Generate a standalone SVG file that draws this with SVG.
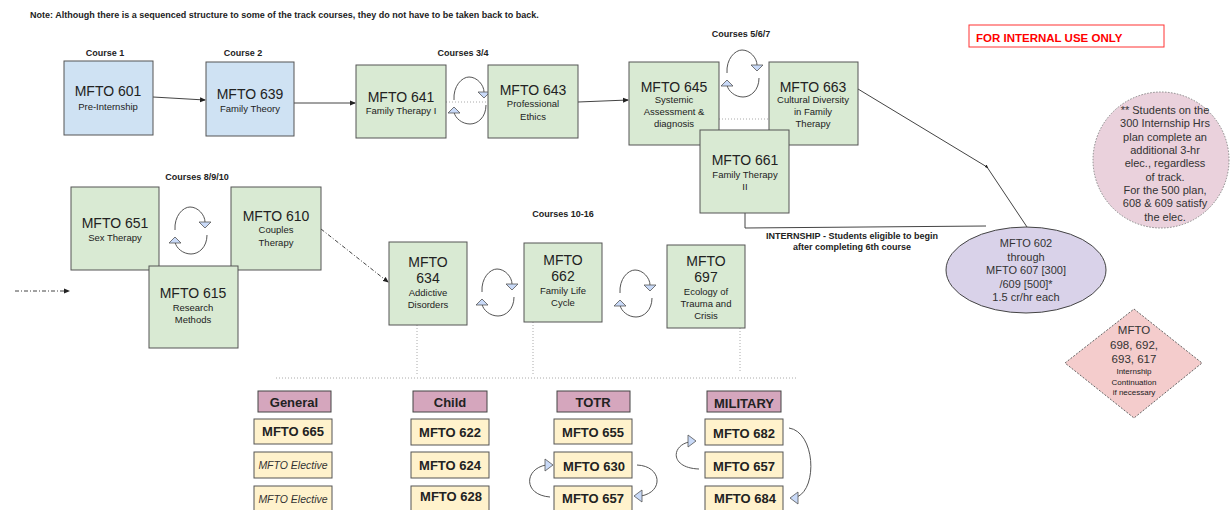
<svg xmlns="http://www.w3.org/2000/svg" width="1230" height="510" viewBox="0 0 1230 510">
<style>
text{font-family:"Liberation Sans",Arial,sans-serif;fill:#222;text-anchor:middle}
.lbl{font-size:9px;font-weight:bold}
.big{font-size:14px}
.sub{font-size:9.5px}
.blue{fill:#cfe2f3;stroke:#555;stroke-width:1}
.green{fill:#d9ead3;stroke:#555;stroke-width:1}
.hdr{fill:#d5a6bd;stroke:#444;stroke-width:1}
.crs{fill:#fff2cc;stroke:#555;stroke-width:1}
.tk{font-size:13px;font-weight:bold}
.el{font-size:10.5px;font-style:italic;fill:#333}
.arc{fill:none;stroke:#555;stroke-width:1}
.tri{fill:#c9daf8;stroke:#555;stroke-width:0.8}
.ln{fill:none;stroke:#444;stroke-width:1}
.dot{fill:none;stroke:#aaa;stroke-width:1;stroke-dasharray:1,2}
.dd{fill:none;stroke:#444;stroke-width:1;stroke-dasharray:4,2,1,2}
.mid{font-size:11px;fill:#333}
</style>
<defs>
<marker id="ah" markerWidth="6" markerHeight="6" refX="5" refY="3" orient="auto" markerUnits="userSpaceOnUse">
<path d="M0,0.5 L6,3 L0,5.5 z" fill="#222"/>
</marker>
<marker id="ahs" markerWidth="4" markerHeight="4" refX="2" refY="2" orient="auto" markerUnits="userSpaceOnUse">
<path d="M0,0.5 L4,2 L0,3.5 z" fill="#222"/>
</marker>
<g id="cyc">
<path class="arc" d="M -15,0 C -16,-14 -7,-23 0,-23 C 8,-23 15,-15 15,-8"/>
<polygon class="tri" points="9,-8 21,-8 15,-2"/>
<path class="arc" d="M 17,5 C 17,17 9,24 1,24 C -7,24 -14,18 -15,12"/>
<polygon class="tri" points="-21,13 -9,13 -15,7"/>
</g>
</defs>

<text x="30" y="18" class="lbl" style="text-anchor:start">Note:  Although there is a sequenced structure to some of the track courses, they do not have to be taken back to back.</text>

<g id="internal">
<rect x="969" y="25" width="195" height="22" fill="#fff" stroke="#f33" stroke-width="1"/>
<text x="976" y="42" style="text-anchor:start;font-size:11.5px;font-weight:bold;fill:#f00">FOR INTERNAL USE ONLY</text>
</g>

<g id="labels">
<text x="105" y="56" class="lbl">Course 1</text>
<text x="243" y="56" class="lbl">Course 2</text>
<text x="463" y="56" class="lbl">Courses 3/4</text>
<text x="741" y="37" class="lbl">Courses 5/6/7</text>
<text x="197" y="180" class="lbl">Courses 8/9/10</text>
<text x="563" y="217" class="lbl">Courses 10-16</text>
<text x="852" y="239" class="lbl">INTERNSHIP - Students eligible to begin</text>
<text x="852" y="250" class="lbl">after completing 6th course</text>
</g>

<g id="connectors">
<line class="ln" x1="153" y1="97" x2="205" y2="100" marker-end="url(#ah)"/>
<line class="ln" x1="294" y1="103" x2="355" y2="103" marker-end="url(#ah)"/>
<line class="ln" x1="578" y1="102" x2="628" y2="100" marker-end="url(#ah)"/>
<line class="dot" x1="446" y1="102" x2="488" y2="102"/>
<line class="dot" x1="719" y1="119" x2="768" y2="119"/>
<polyline class="ln" points="858,89 987,167 1027,227" marker-mid="url(#ahs)"/>
<polyline class="ln" points="745,213 745,228 986,226"/>
<line class="dd" x1="15" y1="291" x2="69" y2="291" marker-end="url(#ah)"/>
<line class="dd" x1="321" y1="229" x2="388" y2="282" marker-end="url(#ah)"/>
<line class="dot" x1="417" y1="325" x2="417" y2="374"/>
<line class="dot" x1="533" y1="322" x2="533" y2="374"/>
<line class="dot" x1="740" y1="328" x2="740" y2="371"/>
<line class="dot" x1="276" y1="378" x2="796" y2="378"/>
<use href="#cyc" x="469" y="100"/>
<use href="#cyc" x="742" y="73"/>
<use href="#cyc" x="190" y="230"/>
<use href="#cyc" x="497" y="292"/>
<use href="#cyc" x="635" y="293"/>
<path class="arc" d="M 637,465 C 662,466 664,492 641,496"/>
<polygon class="tri" points="634,496 642,490 642,502"/>
<path class="arc" d="M 550,497 C 523,495 524,469 546,465"/>
<polygon class="tri" points="553,465 545,459 545,471"/>
<path class="arc" d="M 789,428 C 815,432 818,488 797,497"/>
<polygon class="tri" points="790,498 798,492 798,504"/>
<path class="arc" d="M 699,469 C 670,468 671,446 689,442"/>
<polygon class="tri" points="696,441 688,435 688,447"/>
</g>

<g id="n601"><rect class="blue" x="64" y="61" width="89" height="74"/>
<text x="108" y="96" class="big">MFTO 601</text><text x="108" y="110" class="sub">Pre-Internship</text></g>
<g id="n639"><rect class="blue" x="206" y="62" width="88" height="74"/>
<text x="250" y="99" class="big">MFTO 639</text><text x="250" y="112" class="sub">Family Theory</text></g>
<g id="n641"><rect class="green" x="356" y="65" width="90" height="73"/>
<text x="401" y="102" class="big">MFTO 641</text><text x="401" y="114" class="sub">Family Therapy I</text></g>
<g id="n643"><rect class="green" x="488" y="65" width="90" height="73"/>
<text x="533" y="95" class="big">MFTO 643</text><text x="533" y="107" class="sub">Professional</text><text x="533" y="120" class="sub">Ethics</text></g>
<g id="n645"><rect class="green" x="629" y="62" width="90" height="83"/>
<text x="674" y="92" class="big">MFTO 645</text><text x="674" y="103" class="sub">Systemic</text><text x="674" y="115" class="sub">Assessment &amp;</text><text x="674" y="127" class="sub">diagnosis</text></g>
<g id="n663"><rect class="green" x="769" y="62" width="89" height="83"/>
<text x="813" y="92" class="big">MFTO 663</text><text x="813" y="103" class="sub">Cultural Diversity</text><text x="813" y="115" class="sub">in Family</text><text x="813" y="127" class="sub">Therapy</text></g>
<g id="n661"><rect class="green" x="700" y="130" width="89" height="83"/>
<text x="745" y="165" class="big">MFTO 661</text><text x="745" y="178" class="sub">Family Therapy</text><text x="745" y="190" class="sub">II</text></g>

<g id="n651"><rect class="green" x="71" y="187" width="88" height="83"/>
<text x="115" y="228" class="big">MFTO 651</text><text x="115" y="241" class="sub">Sex Therapy</text></g>
<g id="n610"><rect class="green" x="231" y="187" width="90" height="83"/>
<text x="276" y="221" class="big">MFTO 610</text><text x="276" y="233" class="sub">Couples</text><text x="276" y="246" class="sub">Therapy</text></g>
<g id="n615"><rect class="green" x="149" y="266" width="89" height="82"/>
<text x="193" y="298" class="big">MFTO 615</text><text x="193" y="311" class="sub">Research</text><text x="193" y="323" class="sub">Methods</text></g>

<g id="n634"><rect class="green" x="389" y="242" width="78" height="83"/>
<text x="428" y="267" class="big">MFTO</text><text x="428" y="283" class="big">634</text><text x="428" y="296" class="sub">Addictive</text><text x="428" y="308" class="sub">Disorders</text></g>
<g id="n662"><rect class="green" x="524" y="243" width="78" height="79"/>
<text x="563" y="265" class="big">MFTO</text><text x="563" y="281" class="big">662</text><text x="563" y="294" class="sub">Family Life</text><text x="563" y="306" class="sub">Cycle</text></g>
<g id="n697"><rect class="green" x="667" y="245" width="78" height="83"/>
<text x="706" y="266" class="big">MFTO</text><text x="706" y="282" class="big">697</text><text x="706" y="295" class="sub">Ecology of</text><text x="706" y="307" class="sub">Trauma and</text><text x="706" y="319" class="sub">Crisis</text></g>

<g id="n602"><ellipse cx="1026" cy="270" rx="80" ry="43" fill="#d9d2e9" stroke="#444" stroke-width="1"/>
<text x="1026" y="247" class="mid">MFTO 602</text><text x="1026" y="261" class="mid">through</text><text x="1026" y="274" class="mid">MFTO 607 [300]</text><text x="1026" y="288" class="mid">/609 [500]*</text><text x="1026" y="301" class="mid">1.5 cr/hr each</text></g>

<g id="note500"><circle cx="1161" cy="160" r="68" fill="#ead1dc" stroke="#888" stroke-width="1" stroke-dasharray="1.5,1.5"/>
<text x="1165" y="114" class="mid">** Students on the</text><text x="1165" y="127" class="mid">300 Internship Hrs</text><text x="1165" y="141" class="mid">plan complete an</text><text x="1165" y="154" class="mid">additional 3-hr</text><text x="1165" y="167" class="mid">elec., regardless</text><text x="1165" y="181" class="mid">of track.</text><text x="1165" y="194" class="mid">For the 500 plan,</text><text x="1165" y="207" class="mid">608 &amp; 609 satisfy</text><text x="1165" y="221" class="mid">the elec.</text></g>

<g id="n698"><polygon points="1134,309 1202,363 1134,418 1065,363" fill="#f4cccc" stroke="#666" stroke-width="1" stroke-dasharray="2,1.5"/>
<text x="1134" y="334" class="mid" style="font-size:11.5px">MFTO</text><text x="1134" y="349" class="mid" style="font-size:11.5px">698, 692,</text><text x="1134" y="363" class="mid" style="font-size:11.5px">693, 617</text>
<text x="1134" y="374" style="font-size:8px">Internship</text><text x="1134" y="385" style="font-size:8px">Continuation</text><text x="1134" y="395" style="font-size:8px">if necessary</text></g>

<g id="general">
<rect class="hdr" x="258" y="391" width="73" height="21"/><text x="294" y="407" class="tk">General</text>
<rect class="crs" x="254" y="419" width="78" height="25"/><text x="293" y="436" class="tk">MFTO 665</text>
<rect class="crs" x="254" y="452" width="78" height="26"/><text x="293" y="469" class="el">MFTO Elective</text>
<rect class="crs" x="254" y="486" width="78" height="26"/><text x="293" y="503" class="el">MFTO Elective</text>
</g>
<g id="child">
<rect class="hdr" x="413" y="391" width="74" height="21"/><text x="450" y="407" class="tk">Child</text>
<rect class="crs" x="411" y="419" width="78" height="26"/><text x="450" y="437" class="tk">MFTO 622</text>
<rect class="crs" x="411" y="452" width="78" height="26"/><text x="450" y="470" class="tk">MFTO 624</text>
<rect class="crs" x="411" y="486" width="78" height="26"/><text x="451" y="501" class="tk">MFTO 628</text>
</g>
<g id="totr">
<rect class="hdr" x="557" y="391" width="73" height="21"/><text x="593" y="407" class="tk">TOTR</text>
<rect class="crs" x="554" y="419" width="78" height="25"/><text x="593" y="437" class="tk">MFTO 655</text>
<rect class="crs" x="554" y="452" width="78" height="26"/><text x="594" y="471" class="tk">MFTO 630</text>
<rect class="crs" x="554" y="486" width="78" height="26"/><text x="593" y="503" class="tk">MFTO 657</text>
</g>
<g id="military">
<rect class="hdr" x="707" y="391" width="74" height="21"/><text x="744" y="408" class="tk">MILITARY</text>
<rect class="crs" x="705" y="419" width="78" height="26"/><text x="744" y="438" class="tk">MFTO 682</text>
<rect class="crs" x="705" y="452" width="78" height="26"/><text x="744" y="471" class="tk">MFTO 657</text>
<rect class="crs" x="705" y="486" width="78" height="26"/><text x="745" y="503" class="tk">MFTO 684</text>
</g>
</svg>
